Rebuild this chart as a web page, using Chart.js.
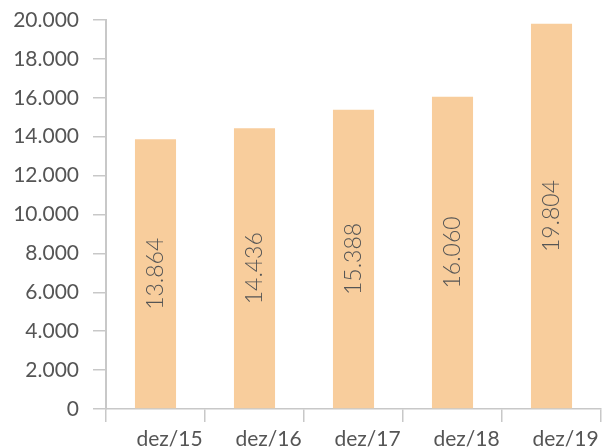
<!DOCTYPE html>
<html>
<head>
<meta charset="utf-8">
<script src="https://cdn.jsdelivr.net/npm/chart.js@4/dist/chart.umd.min.js"></script>
<style>
	html, body { margin: 0; padding: 0; background: #fff; }
	#wrap { width: 603px; height: 448px; }
</style>
</head>
<body>
<div id="wrap"><canvas id="chartEstoque"></canvas></div>
<script>
const categorias = ["dez/15", "dez/16", "dez/17", "dez/18", "dez/19"];
const valores = [13864, 14436, 15388, 16060, 19804];
const yMin = 0;
const yMax = 20000;
const yStep = 2000;

const textColor = "#555555";
const axisColor = "#c8c8c8";
const fontFamily = "Lato, 'Open Sans', sans-serif";

const formatBR = (v) => String(v).replace(/\B(?=(\d{3})+(?!\d))/g, ".");

// rotated value inside each bar
const barLabels = {
	id: "barLabels",
	afterDatasetsDraw(chart) {
		const ctx = chart.ctx;
		const meta = chart.getDatasetMeta(0);
		ctx.save();
		ctx.fillStyle = textColor;
		ctx.font = `300 23px ${fontFamily}`;
		ctx.textAlign = "center";
		ctx.textBaseline = "middle";
		meta.data.forEach((bar, i) => {
			const cy = (bar.y + bar.base) / 2;
			ctx.save();
			ctx.translate(bar.x, cy);
			ctx.rotate(-Math.PI / 2);
			ctx.fillText(formatBR(chart.data.datasets[0].data[i]), 0, 0);
			ctx.restore();
		});
		ctx.restore();
	},
};

const ctx = document.getElementById("chartEstoque");
const chart = new Chart(ctx, {
	type: "bar",
	data: {
		labels: categorias,
		datasets: [
			{
				data: valores,
				backgroundColor: "#f8cd9c",
				borderWidth: 0,
				categoryPercentage: 1,
				barPercentage: 0.415,
			},
		],
	},
	options: {
		responsive: true,
		maintainAspectRatio: false,
		animation: false,
		layout: { padding: { top: 20, right: 2, left: 0, bottom: 0 } },
		plugins: {
			legend: { display: false },
			tooltip: { enabled: false },
		},
		scales: {
			x: {
				grid: {
					offset: true,
					drawOnChartArea: false,
					tickLength: 13,
					color: axisColor,
					lineWidth: 1.5,
				},
				border: { color: axisColor, width: 1.5 },
				ticks: {
					color: textColor,
					font: { family: fontFamily, size: 21, weight: 400 },
					labelOffset: 14,
					padding: 5,
				},
				afterFit: (scale) => {
					scale.height = 39;
					scale.paddingLeft = 0;
					scale.paddingRight = 0;
				},
			},
			y: {
				min: yMin,
				max: yMax,
				grid: {
					drawOnChartArea: false,
					tickLength: 13,
					color: axisColor,
					lineWidth: 1.5,
				},
				border: { color: axisColor, width: 2 },
				ticks: {
					stepSize: yStep,
					color: textColor,
					font: { family: fontFamily, size: 21, weight: 400 },
					padding: 14,
					callback: (v) => formatBR(v),
				},
				afterFit: (scale) => {
					scale.width = 106;
					scale.paddingTop = 0;
					scale.paddingBottom = 0;
				},
			},
		},
	},
	plugins: [barLabels],
});
</script>
</body>
</html>
